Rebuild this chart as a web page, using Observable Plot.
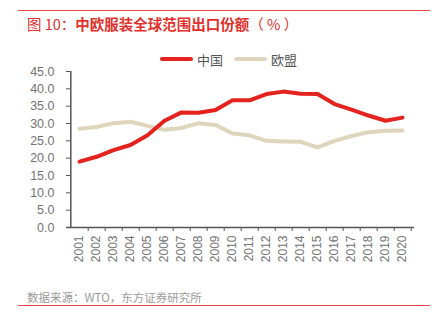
<!DOCTYPE html>
<html>
<head>
<meta charset="utf-8">
<script src="https://cdn.jsdelivr.net/npm/d3@7"></script>
<script src="https://cdn.jsdelivr.net/npm/@observablehq/plot@0.6"></script>
<style>
  html, body { margin: 0; padding: 0; background: #fff; }
  #wrap { position: relative; width: 433px; height: 323px; overflow: hidden; font-family: "Noto Sans CJK SC", "Liberation Sans", sans-serif; }
  .hline { position: absolute; left: 18px; width: 412px; height: 0; border-top: 1px solid #e8474a; }
  #title { position: absolute; left: 27px; top: 14px; font-size: 14.5px; font-weight: bold; color: #e2302c; line-height: 20px; white-space: nowrap; }
  #title .n { font-weight: normal; }
  #source { position: absolute; left: 27px; top: 289px; font-size: 11.5px; color: #9a9a9a; line-height: 16px; white-space: nowrap; }
  #legend { position: absolute; left: 160px; top: 50px; height: 18px; display: flex; align-items: center; font-size: 13px; color: #555; white-space: nowrap; }
  .sw { display: inline-block; width: 33px; height: 4px; border-radius: 2px; margin-right: 4px; }
  .item { display: flex; align-items: center; margin-right: 11px; }
  #chart { position: absolute; left: 0; top: 40px; }
</style>
</head>
<body>
<div id="wrap">
  <div class="hline" style="top:10px"></div>
  <div id="title"><span class="n">图 10：</span>中欧服装全球范围出口份额<span class="n">（ % ）</span></div>
  <div id="legend"></div>
  <div id="chart"></div>
  <div id="source">数据来源：WTO，东方证券研究所</div>
  <div class="hline" style="top:305px"></div>
</div>
<script>
const years = ["2001","2002","2003","2004","2005","2006","2007","2008","2009","2010",
               "2011","2012","2013","2014","2015","2016","2017","2018","2019","2020"];
const china = [19.0, 20.4, 22.3, 23.8, 26.6, 30.8, 33.2, 33.1, 33.9, 36.7,
               36.7, 38.5, 39.2, 38.6, 38.5, 35.6, 34.0, 32.3, 30.8, 31.7];
const eu    = [28.5, 29.0, 30.1, 30.5, 29.3, 28.2, 28.7, 30.1, 29.6, 27.1,
               26.6, 25.0, 24.8, 24.7, 23.1, 25.0, 26.4, 27.5, 27.9, 28.0];
const seriesNames = ["中国", "欧盟"];
const seriesColors = ["#e4231f", "#ded5bd"];
const yTicks = [0, 5, 10, 15, 20, 25, 30, 35, 40, 45];

const data = years.map((y, i) => ({year: y, china: china[i], eu: eu[i]}));

const legend = document.getElementById("legend");
seriesNames.forEach((n, i) => {
  const it = document.createElement("div");
  it.className = "item";
  it.innerHTML = `<span class="sw" style="background:${seriesColors[i]}"></span><span>${n}</span>`;
  legend.appendChild(it);
});

const axisColor = "#555";
const chart = Plot.plot({
  width: 433,
  height: 235,
  marginTop: 31,
  marginBottom: 48,
  marginLeft: 66,
  marginRight: 19,
  x: {type: "point", domain: years, padding: 0.5, label: null},
  y: {domain: [0, 45], label: null},
  style: {fontFamily: "'Liberation Sans', Arial, sans-serif", fontSize: "12px", color: "#737373", background: "transparent"},
  marks: [
    Plot.axisY(yTicks, {tickSize: 0, tickPadding: 12, tickFormat: d3.format(".1f"), fontSize: 12.5}),
    Plot.axisY(yTicks, {tickSize: 4, dx: 4, tickFormat: () => "", stroke: axisColor}),
    Plot.axisX({tickSize: 0, tickPadding: 8, tickRotate: -90, fontSize: 12}),
    Plot.axisX({tickSize: 4, dx: 8.7, tickFormat: () => "", stroke: axisColor}),
    Plot.ruleY([0], {stroke: axisColor, strokeWidth: 1.5}),
    Plot.ruleX([years[0]], {y1: 0, y2: 45, dx: -8.7, stroke: axisColor, strokeWidth: 1.5}),
    Plot.line(data, {x: "year", y: "eu", stroke: seriesColors[1], strokeWidth: 4}),
    Plot.line(data, {x: "year", y: "china", stroke: seriesColors[0], strokeWidth: 4})
  ]
});
document.getElementById("chart").appendChild(chart);
</script>
</body>
</html>
